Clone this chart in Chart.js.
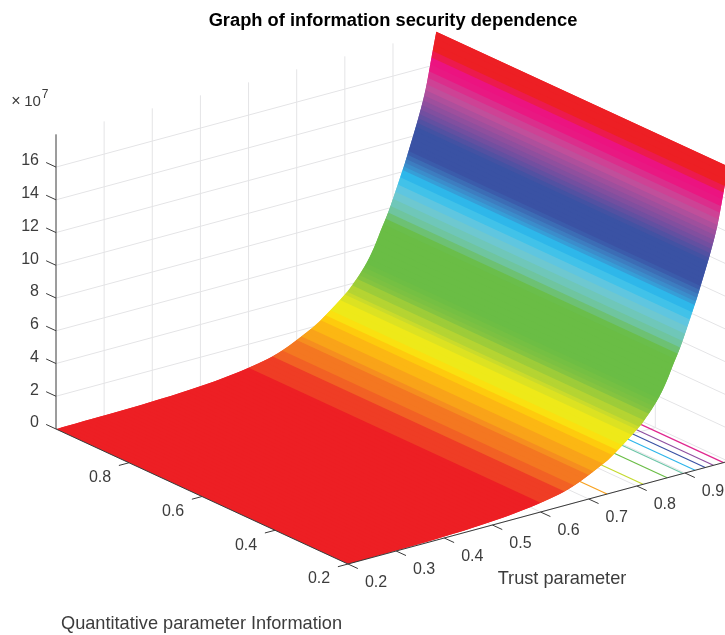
<!DOCTYPE html>
<html><head><meta charset="utf-8">
<style>html,body{margin:0;padding:0;background:#fff}canvas{display:block}</style>
<script src="https://cdn.jsdelivr.net/npm/chart.js@4"></script>
</head><body><canvas id="c" width="725" height="635"></canvas>
<script>
const titleText = "Graph of information security dependence";
const trustAxisTitle = "Trust parameter";
const infoAxisTitle = "Quantitative parameter Information";
const zTicks = [0,2,4,6,8,10,12,14,16];
const trustTicks = [0.2,0.3,0.4,0.5,0.6,0.7,0.8,0.9];
const infoTicks = [0.2,0.4,0.6,0.8];
const trustGrid = [.20,.21,.22,.23,.24,.25,.26,.27,.28,.29,.30,.31,.32,.33,.34,.35,.36,.37,.38,.39,.40,.41,.42,.43,.44,.45,.46,.47,.48,.49,.50,.51,.52,.53,.54,.55,.56,.57,.58,.59,.60,.61,.62,.63,.64,.65,.66,.67,.68,.69,.70,.71,.72,.73,.74,.75,.76,.77,.78,.79,.80,.805,.81,.815,.82,.825,.83,.835,.84,.845,.85,.855,.86,.865,.87,.875,.88,.885,.89,.895,.90,.905,.91,.915,.92,.9225,.925,.9275,.93,.9325,.935,.9375,.94,.9425,.945,.9475,.95,.9525,.955,.9575,.96,.9625,.965,.9675,.97,.9725,.975,.9775,.98,.9825,.985,.9875,.99];
const surfaceZ = [0,0,.01,.01,.01,.01,.02,.02,.02,.03,.03,.03,.04,.04,.05,.05,.06,.06,.07,.08,.09,.10,.11,.12,.13,.14,.16,.17,.19,.21,.23,.25,.27,.30,.33,.36,.39,.43,.47,.51,.56,.61,.66,.72,.78,.85,.96,1.06,1.18,1.32,1.46,1.6,1.76,1.92,2.05,2.28,2.5,2.72,2.95,3.2,3.45,3.58,3.7,3.9,4.05,4.22,4.4,4.6,4.8,5.0,5.25,5.5,5.8,6.1,6.45,6.8,7.1,7.4,7.75,8.1,8.5,8.9,9.3,9.7,10.1,10.3,10.5,10.72,10.95,11.17,11.4,11.62,11.85,12.07,12.3,12.52,12.75,13,13.25,13.5,13.75,14.02,14.3,14.62,14.95,15.32,15.7,16.1,16.5,16.87,17.25,17.62,18];
const contourTrust = [.738,.813,.863,.896,.921,.942,.959,.98];
const contourLevels = [2,4,6,8,10,12,14,16];
const contourColors = ["#F7A11E","#C4D92E","#6ABD45","#6CC6A8","#2DB5EB","#3A52A4","#8E4FA0","#E0288F"];
const colorZ = [0,.5,.9,1.6,2.45,2.8,3.6,4.4,5,7.2,8,8.9,9.8,10.5,11.2,12.5,13.5,14.9,16,16.3,17,18];
const colorHex = ["#ED1F24","#ED1F24","#F15A25","#F7931E","#FFD00B","#F7EC14","#C4D92E","#80C241","#6ABD45","#6ABD45","#70C6A8","#6EC8DC","#2BBFF0","#3E85C5","#3A52A4","#3A52A4","#7A4F9F","#C64F9B","#EC1380","#EC1380","#ED1F24","#ED1F24"];
const trustMin=.2, trustMax=.99, infoMin=.2, infoMax=1, zMax=18;

function project(t,info,z){
  return {x:56+481.4*(t-.2)+365*(1-info), y:429-130*(t-.2)+168.75*(1-info)-16.37*z};
}
function hexRgb(h){return [1,3,5].map(i=>parseInt(h.substr(i,2),16));}
function colorFor(z){
  const q=z<4.5?(Math.floor(z/.28)+.5)*.28:z;
  let i=0; while(i<colorZ.length-2&&q>colorZ[i+1])i++;
  const f=Math.max(0,Math.min(1,(q-colorZ[i])/(colorZ[i+1]-colorZ[i])));
  const a=hexRgb(colorHex[i]),b=hexRgb(colorHex[i+1]);
  return `rgb(${a.map((v,k)=>Math.round(v+(b[k]-v)*f)).join(",")})`;
}
const layers=[];
function addLine(pts,color,width){layers.push({data:pts,borderColor:color,borderWidth:width,pointRadius:0,fill:false,tension:0});}
const GRID="#E4E4E6", AXIS="#3A3A3A";
zTicks.slice(1).forEach(z=>{
  addLine([project(trustMin,infoMax,z),project(trustMax,infoMax,z)],GRID,1);
  addLine([project(trustMax,infoMax,z),project(trustMax,infoMin,z)],GRID,1);
});
trustTicks.slice(1).forEach(t=>addLine([project(t,infoMax,0),project(t,infoMax,zMax)],GRID,1));
infoTicks.forEach(i=>addLine([project(trustMax,i,0),project(trustMax,i,zMax)],GRID,1));
trustTicks.forEach(t=>addLine([project(t,infoMax,0),project(t,infoMin,0)],GRID,1));
infoTicks.forEach(i=>addLine([project(trustMin,i,0),project(trustMax,i,0)],GRID,1));
addLine([project(trustMax,infoMax,0),project(trustMax,infoMin,0)],GRID,1);
contourTrust.forEach((t,k)=>addLine([project(t,infoMax,0),project(t,infoMin,0)],contourColors[k],1.2));
// surface strips: each one runs under the next so no seam shows between them
const last=trustGrid.length-1;
for(let k=0;k<last;k++){
  const a=k,b=Math.min(k+2,last);
  const c=colorFor((surfaceZ[k]+surfaceZ[k+1])/2);
  layers.push({data:[project(trustGrid[a],infoMax,surfaceZ[a]),project(trustGrid[b],infoMax,surfaceZ[b]),project(trustGrid[b],infoMin,surfaceZ[b]),project(trustGrid[a],infoMin,surfaceZ[a])],
    showLine:false,borderWidth:0,pointRadius:0,fill:false,tension:0,polyFill:c});
}
addLine([project(trustMin,infoMax,0),project(trustMin,infoMax,zMax)],AXIS,1);
addLine([project(trustMin,infoMax,0),project(trustMin,infoMin,0)],AXIS,1);
addLine([project(trustMin,infoMin,0),project(1.01,infoMin,0)],AXIS,1);
zTicks.forEach(z=>addLine([project(trustMin,infoMax,z),project(trustMin,infoMax+.027,z)],AXIS,1));
infoTicks.forEach(i=>addLine([project(trustMin,i,0),project(trustMin-.021,i,0)],AXIS,1));
trustTicks.forEach(t=>addLine([project(t,infoMin,0),project(t,infoMin-.027,0)],AXIS,1));
layers.forEach((d,i)=>{d.order=layers.length-i;});

const surfacePlugin={id:"surface",beforeDatasetDraw(chart,args){
  const ds=chart.data.datasets[args.index];
  if(!ds.polyFill)return;
  const pts=args.meta.data,ctx=chart.ctx;
  ctx.save();ctx.beginPath();
  pts.forEach((p,i)=>i?ctx.lineTo(p.x,p.y):ctx.moveTo(p.x,p.y));
  ctx.closePath();ctx.fillStyle=ds.polyFill;ctx.fill();ctx.restore();
}};
const textPlugin={id:"text",afterDraw(chart){
  const ctx=chart.ctx,sx=chart.scales.x,sy=chart.scales.y;
  const put=(s,x,y,font,align,color)=>{ctx.font=font;ctx.textAlign=align||"center";ctx.textBaseline="middle";ctx.fillStyle=color||"#3C3C3C";ctx.fillText(s,x,y);};
  const F='"Liberation Sans",Arial,sans-serif';
  const px=(t,i,z)=>{const p=project(t,i,z);return [sx.getPixelForValue(p.x),sy.getPixelForValue(p.y)];};
  ctx.save();
  put(titleText,393,21,'bold 18.3px '+F,"center","#000");
  zTicks.forEach(z=>{const [x,y]=px(trustMin,infoMax,z);put(String(z),x-17,y-6,'16px '+F,"right");});
  infoTicks.forEach(i=>{const [x,y]=px(trustMin,i,0);put(i.toFixed(1),x-29,y+15,'16px '+F);});
  trustTicks.forEach(t=>{const [x,y]=px(t,infoMin,0);put(t.toFixed(1),x+28,y+18.5,'16px '+F);});
  put(trustAxisTitle,562,579,'18.2px '+F);
  put(infoAxisTitle,201.5,624,'18.2px '+F);
  put("\u00D7",16,102,'16px '+F);
  put("10",32.5,102,'15px '+F);
  put("7",45,95,'12px '+F);
  ctx.restore();
}};
new Chart(document.getElementById("c"),{
  type:"line",
  data:{datasets:layers},
  options:{responsive:false,animation:false,devicePixelRatio:1,
    layout:{padding:0},
    plugins:{legend:{display:false},tooltip:{enabled:false},title:{display:false}},
    scales:{x:{type:"linear",min:0,max:725,display:false},y:{type:"linear",min:0,max:635,reverse:true,display:false}}},
  plugins:[surfacePlugin,textPlugin]
});
</script></body></html>
